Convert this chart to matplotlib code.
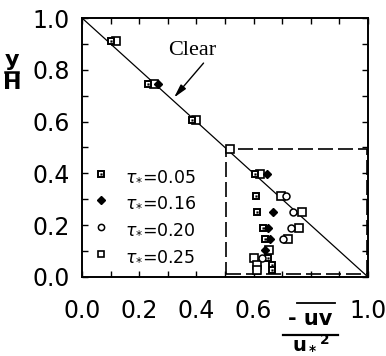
import matplotlib
matplotlib.use("Agg")
import matplotlib.pyplot as plt
from matplotlib.lines import Line2D
from matplotlib.patches import Rectangle
from matplotlib.legend_handler import HandlerTuple
from matplotlib.ticker import MultipleLocator

plt.rcParams.update({
    "font.family": "DejaVu Sans",
    "mathtext.fontset": "dejavusans",
})

# shear stress profiles -uv/u*^2 vs y/H
tau005_x = [0.100, 0.232, 0.383, 0.605, 0.608, 0.613, 0.634, 0.640, 0.651, 0.663, 0.663]
tau005_y = [0.913, 0.744, 0.607, 0.396, 0.311, 0.251, 0.190, 0.147, 0.073, 0.048, 0.026]
tau016_x = [0.267, 0.646, 0.667, 0.652, 0.657, 0.640]
tau016_y = [0.744, 0.396, 0.251, 0.190, 0.147, 0.105]
tau020_x = [0.713, 0.737, 0.731, 0.704, 0.628]
tau020_y = [0.311, 0.251, 0.190, 0.147, 0.073]
tau025_x = [0.120, 0.252, 0.400, 0.517, 0.622, 0.696, 0.768, 0.760, 0.721, 0.655, 0.601, 0.611, 0.611]
tau025_y = [0.913, 0.744, 0.607, 0.494, 0.396, 0.311, 0.251, 0.190, 0.147, 0.105, 0.073, 0.048, 0.026]

clear_x = [0.0, 1.0]
clear_y = [1.0, 0.0]

labels = [r"$\tau_{*}$=0.05", r"$\tau_{*}$=0.16", r"$\tau_{*}$=0.20", r"$\tau_{*}$=0.25"]
xtick_vals = [0.0, 0.2, 0.4, 0.6, 0.8, 1.0]
xtick_labels = ["0.0", "0.2", "0.4", "0.6", "", "1.0"]
ytick_vals = [0.0, 0.2, 0.4, 0.6, 0.8, 1.0]
ytick_labels = ["0.0", "0.2", "0.4", "0.6", "0.8", "1.0"]

W, H = 386, 356
fig = plt.figure(figsize=(W / 100, H / 100), dpi=100)
ax = fig.add_axes([82 / W, 1 - 277 / H, 286 / W, 259 / H])

ax.plot(clear_x, clear_y, color="black", lw=0.9, zorder=2)

# dashed box around the near-bed region
ax.add_patch(Rectangle((0.503, 0.01), 0.492, 0.486, fill=False, ec="black",
                       lw=1.2, ls=(0, (9, 3)), zorder=2))

sq_small = dict(marker="s", ms=4.3, mfc="white", mec="black", mew=1.4, ls="none")
dot = dict(marker="s", ms=1.2, mfc="black", mec="black", mew=0.3, ls="none")
ax.plot(tau005_x, tau005_y, zorder=4, **sq_small)
ax.plot(tau005_x, tau005_y, zorder=5, **dot)
ax.plot(tau016_x, tau016_y, marker="D", ms=4.5, mfc="black", mec="black",
        ls="none", zorder=4)
ax.plot(tau020_x, tau020_y, marker="o", ms=5, mfc="white", mec="black",
        mew=1.1, ls="none", zorder=4)
ax.plot(tau025_x, tau025_y, marker="s", ms=5.5, mfc="white", mec="black",
        mew=1.2, ls="none", zorder=3)

ax.text(0.385, 0.873, "Clear", ha="center", va="center", fontsize=16,
        family="Liberation Serif")
ax.annotate("", xy=(0.322, 0.693), xytext=(0.425, 0.826),
            arrowprops=dict(arrowstyle="-|>,head_length=0.8,head_width=0.2",
                            color="black", lw=1.0, shrinkA=0, shrinkB=0))

handles = [
    (Line2D([], [], **sq_small), Line2D([], [], **dot)),
    Line2D([], [], marker="D", ms=4, mfc="black", mec="black", ls="none"),
    Line2D([], [], marker="o", ms=4.5, mfc="white", mec="black", mew=1.1, ls="none"),
    Line2D([], [], marker="s", ms=4.5, mfc="white", mec="black", mew=1.2, ls="none"),
]
ax.legend(handles, labels, loc="upper left", bbox_to_anchor=(0.03, 0.43),
          frameon=False, fontsize=12.5, handlelength=1.2, handletextpad=0.8,
          labelspacing=0.5, borderpad=0, borderaxespad=0,
          handler_map={tuple: HandlerTuple(ndivide=1)})

ax.set_xlim(0, 1.0)
ax.set_ylim(0, 1.0)
ax.set_xticks(xtick_vals)
ax.set_xticklabels(xtick_labels)
ax.set_yticks(ytick_vals)
ax.set_yticklabels(ytick_labels)
ax.xaxis.set_minor_locator(MultipleLocator(0.1))
ax.yaxis.set_minor_locator(MultipleLocator(0.1))
ax.tick_params(which="both", top=True, right=True, direction="in",
               length=4, width=1.0, labelsize=17)
ax.tick_params(axis="x", pad=16)
ax.tick_params(axis="y", pad=9)
for s in ax.spines.values():
    s.set_linewidth(1.4)

# y/H label
fig.text(12 / W, 1 - 60 / H, "y", ha="center", va="center",
         fontsize=16, weight="bold")
fig.add_artist(Line2D([5 / W, 18 / W], [1 - 72 / H, 1 - 72 / H],
                      color="black", lw=1.8))
fig.text(12 / W, 1 - 83 / H, "H", ha="center", va="center",
         fontsize=16, weight="bold")

# -uv / u*^2 label
fig.add_artist(Line2D([297 / W, 335 / W], [1 - 303 / H, 1 - 303 / H],
                      color="black", lw=1.3))
fig.text(310 / W, 1 - 319 / H, "- uv", ha="center", va="center",
         fontsize=15, weight="bold")
fig.add_artist(Line2D([283 / W, 338 / W], [1 - 335 / H, 1 - 335 / H],
                      color="black", lw=1.6))
fig.text(311 / W, 1 - 354 / H, r"u$_{\bf *}$$^{\bf 2}$", ha="center", va="bottom",
         fontsize=14, weight="bold")

fig.savefig("out.png", dpi=100)
